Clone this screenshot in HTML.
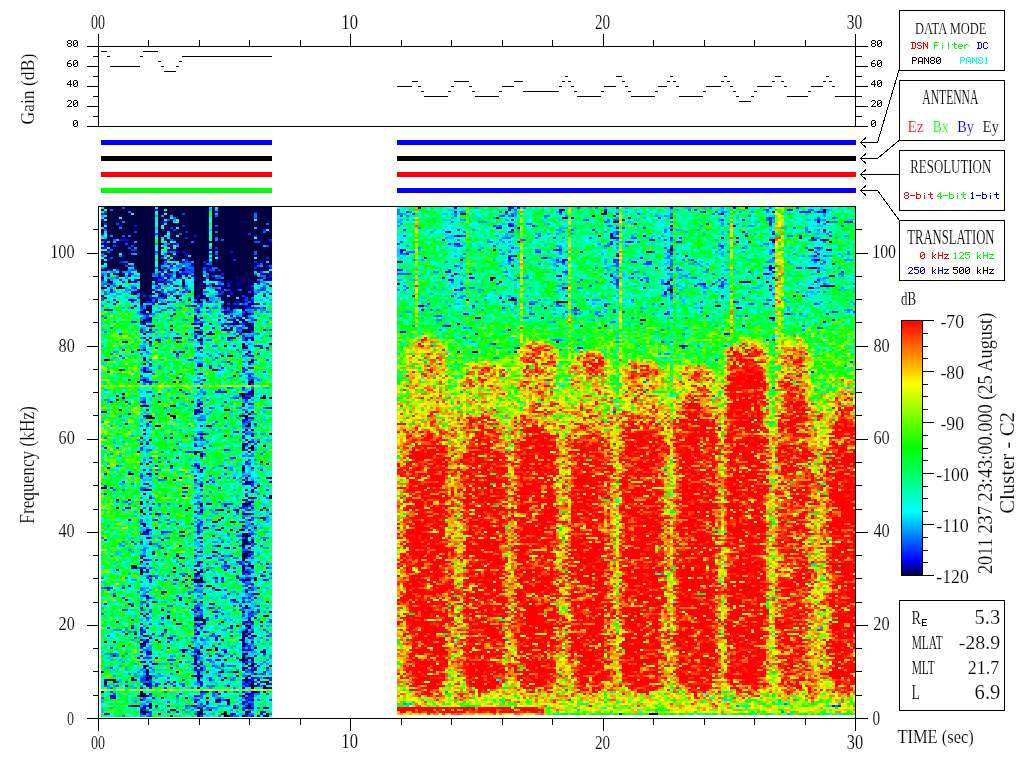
<!DOCTYPE html>
<html><head><meta charset="utf-8"><style>
html,body{margin:0;padding:0;background:#fff;width:1024px;height:768px;overflow:hidden}
#sp{position:absolute;left:101px;top:207px;image-rendering:pixelated}
svg{position:absolute;left:0;top:0}
</style></head><body>
<div style="position:absolute;left:101px;top:207px;width:171px;height:510px;background:linear-gradient(#000050 0,#000050 50px,#0090e0 75px,#10e0a0 120px,#20e0a0 300px,#00c8d0 510px)"></div>
<div style="position:absolute;left:397px;top:207px;width:458px;height:508px;background:linear-gradient(#00d8b0,#00e890 110px,#a0f040 135px,transparent 136px),repeating-linear-gradient(90deg,#c0f020 0,#c0f020 6px,#ff3000 16px,#ff2000 36px,#c0f020 46px,#c0f020 52.3px);background-position:0 0,6px 0"></div>
<canvas id="sp" width="755" height="511"></canvas>
<svg width="1024" height="768" viewBox="0 0 1024 768" shape-rendering="crispEdges">
<line x1="87.00" y1="46.50" x2="868.00" y2="46.50" stroke="#000" stroke-width="1"/>
<line x1="87.00" y1="126.50" x2="868.00" y2="126.50" stroke="#000" stroke-width="1"/>
<line x1="98.50" y1="34.00" x2="98.50" y2="127.00" stroke="#000" stroke-width="1"/>
<line x1="855.50" y1="34.00" x2="855.50" y2="127.00" stroke="#000" stroke-width="1"/>
<line x1="87.00" y1="106.50" x2="98.50" y2="106.50" stroke="#000" stroke-width="1"/>
<line x1="855.50" y1="106.50" x2="868.00" y2="106.50" stroke="#000" stroke-width="1"/>
<line x1="87.00" y1="86.50" x2="98.50" y2="86.50" stroke="#000" stroke-width="1"/>
<line x1="855.50" y1="86.50" x2="868.00" y2="86.50" stroke="#000" stroke-width="1"/>
<line x1="87.00" y1="66.50" x2="98.50" y2="66.50" stroke="#000" stroke-width="1"/>
<line x1="855.50" y1="66.50" x2="868.00" y2="66.50" stroke="#000" stroke-width="1"/>
<line x1="93.00" y1="116.50" x2="98.50" y2="116.50" stroke="#000" stroke-width="1"/>
<line x1="855.50" y1="116.50" x2="862.00" y2="116.50" stroke="#000" stroke-width="1"/>
<line x1="93.00" y1="96.50" x2="98.50" y2="96.50" stroke="#000" stroke-width="1"/>
<line x1="855.50" y1="96.50" x2="862.00" y2="96.50" stroke="#000" stroke-width="1"/>
<line x1="93.00" y1="76.50" x2="98.50" y2="76.50" stroke="#000" stroke-width="1"/>
<line x1="855.50" y1="76.50" x2="862.00" y2="76.50" stroke="#000" stroke-width="1"/>
<line x1="93.00" y1="56.50" x2="98.50" y2="56.50" stroke="#000" stroke-width="1"/>
<line x1="855.50" y1="56.50" x2="862.00" y2="56.50" stroke="#000" stroke-width="1"/>
<line x1="148.97" y1="40.00" x2="148.97" y2="46.50" stroke="#000" stroke-width="1"/>
<line x1="199.43" y1="40.00" x2="199.43" y2="46.50" stroke="#000" stroke-width="1"/>
<line x1="249.90" y1="40.00" x2="249.90" y2="46.50" stroke="#000" stroke-width="1"/>
<line x1="300.37" y1="40.00" x2="300.37" y2="46.50" stroke="#000" stroke-width="1"/>
<line x1="350.83" y1="40.00" x2="350.83" y2="46.50" stroke="#000" stroke-width="1"/>
<line x1="401.30" y1="40.00" x2="401.30" y2="46.50" stroke="#000" stroke-width="1"/>
<line x1="451.77" y1="40.00" x2="451.77" y2="46.50" stroke="#000" stroke-width="1"/>
<line x1="502.23" y1="40.00" x2="502.23" y2="46.50" stroke="#000" stroke-width="1"/>
<line x1="552.70" y1="40.00" x2="552.70" y2="46.50" stroke="#000" stroke-width="1"/>
<line x1="603.17" y1="40.00" x2="603.17" y2="46.50" stroke="#000" stroke-width="1"/>
<line x1="653.63" y1="40.00" x2="653.63" y2="46.50" stroke="#000" stroke-width="1"/>
<line x1="704.10" y1="40.00" x2="704.10" y2="46.50" stroke="#000" stroke-width="1"/>
<line x1="754.57" y1="40.00" x2="754.57" y2="46.50" stroke="#000" stroke-width="1"/>
<line x1="805.03" y1="40.00" x2="805.03" y2="46.50" stroke="#000" stroke-width="1"/>
<line x1="350.83" y1="34.00" x2="350.83" y2="46.50" stroke="#000" stroke-width="1"/>
<line x1="603.17" y1="34.00" x2="603.17" y2="46.50" stroke="#000" stroke-width="1"/>
<path d="M74 120h3v1h-3zM73 121h1v1h-1zM77 121h1v1h-1zM73 122h1v1h-1zM76 122h2v1h-2zM73 123h1v1h-1zM75 123h1v1h-1zM77 123h1v1h-1zM73 124h2v1h-2zM77 124h1v1h-1zM73 125h1v1h-1zM77 125h1v1h-1zM74 126h3v1h-3zM872 120h3v1h-3zM871 121h1v1h-1zM875 121h1v1h-1zM871 122h1v1h-1zM874 122h2v1h-2zM871 123h1v1h-1zM873 123h1v1h-1zM875 123h1v1h-1zM871 124h2v1h-2zM875 124h1v1h-1zM871 125h1v1h-1zM875 125h1v1h-1zM872 126h3v1h-3zM68 100h3v1h-3zM67 101h1v1h-1zM71 101h1v1h-1zM71 102h1v1h-1zM70 103h1v1h-1zM69 104h1v1h-1zM68 105h1v1h-1zM67 106h5v1h-5zM74 100h3v1h-3zM73 101h1v1h-1zM77 101h1v1h-1zM73 102h1v1h-1zM76 102h2v1h-2zM73 103h1v1h-1zM75 103h1v1h-1zM77 103h1v1h-1zM73 104h2v1h-2zM77 104h1v1h-1zM73 105h1v1h-1zM77 105h1v1h-1zM74 106h3v1h-3zM872 100h3v1h-3zM871 101h1v1h-1zM875 101h1v1h-1zM875 102h1v1h-1zM874 103h1v1h-1zM873 104h1v1h-1zM872 105h1v1h-1zM871 106h5v1h-5zM878 100h3v1h-3zM877 101h1v1h-1zM881 101h1v1h-1zM877 102h1v1h-1zM880 102h2v1h-2zM877 103h1v1h-1zM879 103h1v1h-1zM881 103h1v1h-1zM877 104h2v1h-2zM881 104h1v1h-1zM877 105h1v1h-1zM881 105h1v1h-1zM878 106h3v1h-3zM70 80h1v1h-1zM69 81h2v1h-2zM68 82h1v1h-1zM70 82h1v1h-1zM67 83h1v1h-1zM70 83h1v1h-1zM67 84h5v1h-5zM70 85h1v1h-1zM70 86h1v1h-1zM74 80h3v1h-3zM73 81h1v1h-1zM77 81h1v1h-1zM73 82h1v1h-1zM76 82h2v1h-2zM73 83h1v1h-1zM75 83h1v1h-1zM77 83h1v1h-1zM73 84h2v1h-2zM77 84h1v1h-1zM73 85h1v1h-1zM77 85h1v1h-1zM74 86h3v1h-3zM874 80h1v1h-1zM873 81h2v1h-2zM872 82h1v1h-1zM874 82h1v1h-1zM871 83h1v1h-1zM874 83h1v1h-1zM871 84h5v1h-5zM874 85h1v1h-1zM874 86h1v1h-1zM878 80h3v1h-3zM877 81h1v1h-1zM881 81h1v1h-1zM877 82h1v1h-1zM880 82h2v1h-2zM877 83h1v1h-1zM879 83h1v1h-1zM881 83h1v1h-1zM877 84h2v1h-2zM881 84h1v1h-1zM877 85h1v1h-1zM881 85h1v1h-1zM878 86h3v1h-3zM69 60h2v1h-2zM68 61h1v1h-1zM67 62h1v1h-1zM67 63h4v1h-4zM67 64h1v1h-1zM71 64h1v1h-1zM67 65h1v1h-1zM71 65h1v1h-1zM68 66h3v1h-3zM74 60h3v1h-3zM73 61h1v1h-1zM77 61h1v1h-1zM73 62h1v1h-1zM76 62h2v1h-2zM73 63h1v1h-1zM75 63h1v1h-1zM77 63h1v1h-1zM73 64h2v1h-2zM77 64h1v1h-1zM73 65h1v1h-1zM77 65h1v1h-1zM74 66h3v1h-3zM873 60h2v1h-2zM872 61h1v1h-1zM871 62h1v1h-1zM871 63h4v1h-4zM871 64h1v1h-1zM875 64h1v1h-1zM871 65h1v1h-1zM875 65h1v1h-1zM872 66h3v1h-3zM878 60h3v1h-3zM877 61h1v1h-1zM881 61h1v1h-1zM877 62h1v1h-1zM880 62h2v1h-2zM877 63h1v1h-1zM879 63h1v1h-1zM881 63h1v1h-1zM877 64h2v1h-2zM881 64h1v1h-1zM877 65h1v1h-1zM881 65h1v1h-1zM878 66h3v1h-3zM68 40h3v1h-3zM67 41h1v1h-1zM71 41h1v1h-1zM67 42h1v1h-1zM71 42h1v1h-1zM68 43h3v1h-3zM67 44h1v1h-1zM71 44h1v1h-1zM67 45h1v1h-1zM71 45h1v1h-1zM68 46h3v1h-3zM74 40h3v1h-3zM73 41h1v1h-1zM77 41h1v1h-1zM73 42h1v1h-1zM76 42h2v1h-2zM73 43h1v1h-1zM75 43h1v1h-1zM77 43h1v1h-1zM73 44h2v1h-2zM77 44h1v1h-1zM73 45h1v1h-1zM77 45h1v1h-1zM74 46h3v1h-3zM872 40h3v1h-3zM871 41h1v1h-1zM875 41h1v1h-1zM871 42h1v1h-1zM875 42h1v1h-1zM872 43h3v1h-3zM871 44h1v1h-1zM875 44h1v1h-1zM871 45h1v1h-1zM875 45h1v1h-1zM872 46h3v1h-3zM878 40h3v1h-3zM877 41h1v1h-1zM881 41h1v1h-1zM877 42h1v1h-1zM880 42h2v1h-2zM877 43h1v1h-1zM879 43h1v1h-1zM881 43h1v1h-1zM877 44h2v1h-2zM881 44h1v1h-1zM877 45h1v1h-1zM881 45h1v1h-1zM878 46h3v1h-3z" fill="#000"/>
<path d="M101 51.5H107M107 56.5H110M110 66.5H140M140 56.5H143M143 51.5H158M158 61.5H161M161 66.5H164M164 71.5H176M176 66.5H179M179 61.5H182M182 56.5H272M397 86.5H412M412 81.5H418M418 86.5H421M421 91.5H424M424 96.5H448M448 91.5H451M451 86.5H454M454 81.5H469M469 86.5H472M472 91.5H475M475 96.5H499M499 91.5H502M502 86.5H514M514 81.5H523M523 91.5H559M559 86.5H562M562 81.5H565M565 76.5H568M568 81.5H571M571 86.5H574M574 91.5H577M577 96.5H601M601 91.5H604M604 86.5H616M616 76.5H622M622 81.5H625M625 86.5H628M628 91.5H631M631 96.5H655M655 91.5H658M658 86.5H667M667 81.5H670M670 76.5H673M673 81.5H676M676 86.5H679M679 96.5H703M703 91.5H706M706 86.5H721M721 81.5H724M724 76.5H727M727 81.5H730M730 86.5H733M733 91.5H736M736 96.5H739M739 101.5H751M751 96.5H754M754 91.5H757M757 86.5H772M772 81.5H775M775 76.5H781M781 81.5H784M784 86.5H787M787 96.5H808M808 91.5H811M811 86.5H823M823 81.5H826M826 76.5H829M829 81.5H832M832 86.5H835M835 96.5H856" stroke="#000" stroke-width="1" fill="none"/>
<rect x="101" y="140" width="171" height="5" fill="#0000ff"/>
<rect x="397" y="140" width="459" height="5" fill="#0000ff"/>
<rect x="101" y="156" width="171" height="5" fill="#000000"/>
<rect x="397" y="156" width="459" height="5" fill="#000000"/>
<rect x="101" y="172" width="171" height="5" fill="#ff0000"/>
<rect x="397" y="172" width="459" height="5" fill="#ff0000"/>
<rect x="101" y="188" width="171" height="5" fill="#00ff00"/>
<rect x="397" y="188" width="459" height="5" fill="#0000ff"/>
<path d="M866 137.5L860.5 142.5L866 147.5M860.5 142.5H877.5" stroke="#000" fill="none"/>
<path d="M866 153.5L860.5 158.5L866 163.5M860.5 158.5H877.5" stroke="#000" fill="none"/>
<path d="M866 169.5L860.5 174.5L866 179.5M860.5 174.5H877.5" stroke="#000" fill="none"/>
<path d="M866 185.5L860.5 190.5L866 195.5M860.5 190.5H877.5" stroke="#000" fill="none"/>
<path d="M877.5 142.5L899 70M877.5 158.5L899 140.5M877.5 174.5H899M877.5 190.5L899 220" stroke="#000" fill="none"/>
<rect x="899.5" y="10.5" width="105" height="60" fill="none" stroke="#000"/>
<rect x="899.5" y="80.5" width="105" height="60" fill="none" stroke="#000"/>
<rect x="899.5" y="150.5" width="105" height="60" fill="none" stroke="#000"/>
<rect x="899.5" y="220.5" width="105" height="60" fill="none" stroke="#000"/>
<rect x="899.5" y="600.5" width="105" height="110" fill="none" stroke="#000"/>
<line x1="98.50" y1="206.50" x2="855.50" y2="206.50" stroke="#000" stroke-width="1"/>
<line x1="87.00" y1="718.50" x2="868.00" y2="718.50" stroke="#000" stroke-width="1"/>
<line x1="98.50" y1="206.00" x2="98.50" y2="731.00" stroke="#000" stroke-width="1"/>
<line x1="855.50" y1="206.00" x2="855.50" y2="731.00" stroke="#000" stroke-width="1"/>
<line x1="148.97" y1="718.50" x2="148.97" y2="725.00" stroke="#000" stroke-width="1"/>
<line x1="199.43" y1="718.50" x2="199.43" y2="725.00" stroke="#000" stroke-width="1"/>
<line x1="249.90" y1="718.50" x2="249.90" y2="725.00" stroke="#000" stroke-width="1"/>
<line x1="300.37" y1="718.50" x2="300.37" y2="725.00" stroke="#000" stroke-width="1"/>
<line x1="350.83" y1="718.50" x2="350.83" y2="725.00" stroke="#000" stroke-width="1"/>
<line x1="401.30" y1="718.50" x2="401.30" y2="725.00" stroke="#000" stroke-width="1"/>
<line x1="451.77" y1="718.50" x2="451.77" y2="725.00" stroke="#000" stroke-width="1"/>
<line x1="502.23" y1="718.50" x2="502.23" y2="725.00" stroke="#000" stroke-width="1"/>
<line x1="552.70" y1="718.50" x2="552.70" y2="725.00" stroke="#000" stroke-width="1"/>
<line x1="603.17" y1="718.50" x2="603.17" y2="725.00" stroke="#000" stroke-width="1"/>
<line x1="653.63" y1="718.50" x2="653.63" y2="725.00" stroke="#000" stroke-width="1"/>
<line x1="704.10" y1="718.50" x2="704.10" y2="725.00" stroke="#000" stroke-width="1"/>
<line x1="754.57" y1="718.50" x2="754.57" y2="725.00" stroke="#000" stroke-width="1"/>
<line x1="805.03" y1="718.50" x2="805.03" y2="725.00" stroke="#000" stroke-width="1"/>
<line x1="350.83" y1="718.50" x2="350.83" y2="731.00" stroke="#000" stroke-width="1"/>
<line x1="603.17" y1="718.50" x2="603.17" y2="731.00" stroke="#000" stroke-width="1"/>
<line x1="93.00" y1="695.50" x2="98.50" y2="695.50" stroke="#000" stroke-width="1"/>
<line x1="855.50" y1="695.50" x2="862.00" y2="695.50" stroke="#000" stroke-width="1"/>
<line x1="93.00" y1="671.50" x2="98.50" y2="671.50" stroke="#000" stroke-width="1"/>
<line x1="855.50" y1="671.50" x2="862.00" y2="671.50" stroke="#000" stroke-width="1"/>
<line x1="93.00" y1="648.50" x2="98.50" y2="648.50" stroke="#000" stroke-width="1"/>
<line x1="855.50" y1="648.50" x2="862.00" y2="648.50" stroke="#000" stroke-width="1"/>
<line x1="87.00" y1="625.50" x2="98.50" y2="625.50" stroke="#000" stroke-width="1"/>
<line x1="855.50" y1="625.50" x2="868.00" y2="625.50" stroke="#000" stroke-width="1"/>
<line x1="93.00" y1="602.50" x2="98.50" y2="602.50" stroke="#000" stroke-width="1"/>
<line x1="855.50" y1="602.50" x2="862.00" y2="602.50" stroke="#000" stroke-width="1"/>
<line x1="93.00" y1="578.50" x2="98.50" y2="578.50" stroke="#000" stroke-width="1"/>
<line x1="855.50" y1="578.50" x2="862.00" y2="578.50" stroke="#000" stroke-width="1"/>
<line x1="93.00" y1="555.50" x2="98.50" y2="555.50" stroke="#000" stroke-width="1"/>
<line x1="855.50" y1="555.50" x2="862.00" y2="555.50" stroke="#000" stroke-width="1"/>
<line x1="87.00" y1="532.50" x2="98.50" y2="532.50" stroke="#000" stroke-width="1"/>
<line x1="855.50" y1="532.50" x2="868.00" y2="532.50" stroke="#000" stroke-width="1"/>
<line x1="93.00" y1="509.50" x2="98.50" y2="509.50" stroke="#000" stroke-width="1"/>
<line x1="855.50" y1="509.50" x2="862.00" y2="509.50" stroke="#000" stroke-width="1"/>
<line x1="93.00" y1="485.50" x2="98.50" y2="485.50" stroke="#000" stroke-width="1"/>
<line x1="855.50" y1="485.50" x2="862.00" y2="485.50" stroke="#000" stroke-width="1"/>
<line x1="93.00" y1="462.50" x2="98.50" y2="462.50" stroke="#000" stroke-width="1"/>
<line x1="855.50" y1="462.50" x2="862.00" y2="462.50" stroke="#000" stroke-width="1"/>
<line x1="87.00" y1="439.50" x2="98.50" y2="439.50" stroke="#000" stroke-width="1"/>
<line x1="855.50" y1="439.50" x2="868.00" y2="439.50" stroke="#000" stroke-width="1"/>
<line x1="93.00" y1="415.50" x2="98.50" y2="415.50" stroke="#000" stroke-width="1"/>
<line x1="855.50" y1="415.50" x2="862.00" y2="415.50" stroke="#000" stroke-width="1"/>
<line x1="93.00" y1="392.50" x2="98.50" y2="392.50" stroke="#000" stroke-width="1"/>
<line x1="855.50" y1="392.50" x2="862.00" y2="392.50" stroke="#000" stroke-width="1"/>
<line x1="93.00" y1="369.50" x2="98.50" y2="369.50" stroke="#000" stroke-width="1"/>
<line x1="855.50" y1="369.50" x2="862.00" y2="369.50" stroke="#000" stroke-width="1"/>
<line x1="87.00" y1="346.50" x2="98.50" y2="346.50" stroke="#000" stroke-width="1"/>
<line x1="855.50" y1="346.50" x2="868.00" y2="346.50" stroke="#000" stroke-width="1"/>
<line x1="93.00" y1="322.50" x2="98.50" y2="322.50" stroke="#000" stroke-width="1"/>
<line x1="855.50" y1="322.50" x2="862.00" y2="322.50" stroke="#000" stroke-width="1"/>
<line x1="93.00" y1="299.50" x2="98.50" y2="299.50" stroke="#000" stroke-width="1"/>
<line x1="855.50" y1="299.50" x2="862.00" y2="299.50" stroke="#000" stroke-width="1"/>
<line x1="93.00" y1="276.50" x2="98.50" y2="276.50" stroke="#000" stroke-width="1"/>
<line x1="855.50" y1="276.50" x2="862.00" y2="276.50" stroke="#000" stroke-width="1"/>
<line x1="87.00" y1="253.50" x2="98.50" y2="253.50" stroke="#000" stroke-width="1"/>
<line x1="855.50" y1="253.50" x2="868.00" y2="253.50" stroke="#000" stroke-width="1"/>
<line x1="93.00" y1="229.50" x2="98.50" y2="229.50" stroke="#000" stroke-width="1"/>
<line x1="855.50" y1="229.50" x2="862.00" y2="229.50" stroke="#000" stroke-width="1"/>
<defs><linearGradient id="cb" x1="0" y1="1" x2="0" y2="0"><stop offset="0" stop-color="#000040"/><stop offset="0.06" stop-color="#0000ff"/><stop offset="0.25" stop-color="#00ffff"/><stop offset="0.5" stop-color="#00ff00"/><stop offset="0.75" stop-color="#ffff00"/><stop offset="1" stop-color="#ff0000"/></linearGradient></defs>
<rect x="901.5" y="320.5" width="21" height="255" fill="url(#cb)" stroke="#000"/>
<line x1="922.50" y1="320.50" x2="934.00" y2="320.50" stroke="#000" stroke-width="1"/>
<line x1="922.50" y1="333.50" x2="928.00" y2="333.50" stroke="#000" stroke-width="1"/>
<line x1="922.50" y1="346.50" x2="928.00" y2="346.50" stroke="#000" stroke-width="1"/>
<line x1="922.50" y1="358.50" x2="928.00" y2="358.50" stroke="#000" stroke-width="1"/>
<line x1="922.50" y1="371.50" x2="934.00" y2="371.50" stroke="#000" stroke-width="1"/>
<line x1="922.50" y1="384.50" x2="928.00" y2="384.50" stroke="#000" stroke-width="1"/>
<line x1="922.50" y1="396.50" x2="928.00" y2="396.50" stroke="#000" stroke-width="1"/>
<line x1="922.50" y1="409.50" x2="928.00" y2="409.50" stroke="#000" stroke-width="1"/>
<line x1="922.50" y1="422.50" x2="934.00" y2="422.50" stroke="#000" stroke-width="1"/>
<line x1="922.50" y1="435.50" x2="928.00" y2="435.50" stroke="#000" stroke-width="1"/>
<line x1="922.50" y1="448.50" x2="928.00" y2="448.50" stroke="#000" stroke-width="1"/>
<line x1="922.50" y1="460.50" x2="928.00" y2="460.50" stroke="#000" stroke-width="1"/>
<line x1="922.50" y1="473.50" x2="934.00" y2="473.50" stroke="#000" stroke-width="1"/>
<line x1="922.50" y1="486.50" x2="928.00" y2="486.50" stroke="#000" stroke-width="1"/>
<line x1="922.50" y1="498.50" x2="928.00" y2="498.50" stroke="#000" stroke-width="1"/>
<line x1="922.50" y1="511.50" x2="928.00" y2="511.50" stroke="#000" stroke-width="1"/>
<line x1="922.50" y1="524.50" x2="934.00" y2="524.50" stroke="#000" stroke-width="1"/>
<line x1="922.50" y1="537.50" x2="928.00" y2="537.50" stroke="#000" stroke-width="1"/>
<line x1="922.50" y1="550.50" x2="928.00" y2="550.50" stroke="#000" stroke-width="1"/>
<line x1="922.50" y1="562.50" x2="928.00" y2="562.50" stroke="#000" stroke-width="1"/>
<line x1="922.50" y1="575.50" x2="934.00" y2="575.50" stroke="#000" stroke-width="1"/>
<path d="M911 42h4v1h-4zM912 43h1v1h-1zM915 43h1v1h-1zM912 44h1v1h-1zM915 44h1v1h-1zM912 45h1v1h-1zM915 45h1v1h-1zM912 46h1v1h-1zM915 46h1v1h-1zM912 47h1v1h-1zM915 47h1v1h-1zM911 48h4v1h-4zM918 42h3v1h-3zM917 43h1v1h-1zM921 43h1v1h-1zM917 44h1v1h-1zM918 45h3v1h-3zM921 46h1v1h-1zM917 47h1v1h-1zM921 47h1v1h-1zM918 48h3v1h-3zM923 42h1v1h-1zM927 42h1v1h-1zM923 43h2v1h-2zM927 43h1v1h-1zM923 44h1v1h-1zM925 44h1v1h-1zM927 44h1v1h-1zM923 45h1v1h-1zM925 45h1v1h-1zM927 45h1v1h-1zM923 46h1v1h-1zM926 46h2v1h-2zM923 47h1v1h-1zM927 47h1v1h-1zM923 48h1v1h-1zM927 48h1v1h-1z" fill="#ff0000"/>
<path d="M934 42h5v1h-5zM934 43h1v1h-1zM934 44h1v1h-1zM934 45h4v1h-4zM934 46h1v1h-1zM934 47h1v1h-1zM934 48h1v1h-1zM942 43h1v1h-1zM942 45h1v1h-1zM942 46h1v1h-1zM942 47h1v1h-1zM942 48h1v1h-1zM948 42h1v1h-1zM948 43h1v1h-1zM948 44h1v1h-1zM948 45h1v1h-1zM948 46h1v1h-1zM948 47h1v1h-1zM948 48h1v1h-1zM954 42h1v1h-1zM954 43h1v1h-1zM952 44h5v1h-5zM954 45h1v1h-1zM954 46h1v1h-1zM954 47h1v1h-1zM955 48h2v1h-2zM959 44h3v1h-3zM958 45h1v1h-1zM962 45h1v1h-1zM958 46h5v1h-5zM958 47h1v1h-1zM959 48h3v1h-3zM964 44h1v1h-1zM966 44h2v1h-2zM964 45h2v1h-2zM968 45h1v1h-1zM964 46h1v1h-1zM964 47h1v1h-1zM964 48h1v1h-1z" fill="#00ff00"/>
<path d="M977 42h4v1h-4zM978 43h1v1h-1zM981 43h1v1h-1zM978 44h1v1h-1zM981 44h1v1h-1zM978 45h1v1h-1zM981 45h1v1h-1zM978 46h1v1h-1zM981 46h1v1h-1zM978 47h1v1h-1zM981 47h1v1h-1zM977 48h4v1h-4zM984 42h3v1h-3zM983 43h1v1h-1zM987 43h1v1h-1zM983 44h1v1h-1zM983 45h1v1h-1zM983 46h1v1h-1zM983 47h1v1h-1zM987 47h1v1h-1zM984 48h3v1h-3z" fill="#0000ff"/>
<path d="M912 57h4v1h-4zM912 58h1v1h-1zM916 58h1v1h-1zM912 59h1v1h-1zM916 59h1v1h-1zM912 60h4v1h-4zM912 61h1v1h-1zM912 62h1v1h-1zM912 63h1v1h-1zM919 57h3v1h-3zM918 58h1v1h-1zM922 58h1v1h-1zM918 59h1v1h-1zM922 59h1v1h-1zM918 60h1v1h-1zM922 60h1v1h-1zM918 61h5v1h-5zM918 62h1v1h-1zM922 62h1v1h-1zM918 63h1v1h-1zM922 63h1v1h-1zM924 57h1v1h-1zM928 57h1v1h-1zM924 58h2v1h-2zM928 58h1v1h-1zM924 59h1v1h-1zM926 59h1v1h-1zM928 59h1v1h-1zM924 60h1v1h-1zM926 60h1v1h-1zM928 60h1v1h-1zM924 61h1v1h-1zM927 61h2v1h-2zM924 62h1v1h-1zM928 62h1v1h-1zM924 63h1v1h-1zM928 63h1v1h-1zM931 57h3v1h-3zM930 58h1v1h-1zM934 58h1v1h-1zM930 59h1v1h-1zM934 59h1v1h-1zM931 60h3v1h-3zM930 61h1v1h-1zM934 61h1v1h-1zM930 62h1v1h-1zM934 62h1v1h-1zM931 63h3v1h-3zM937 57h3v1h-3zM936 58h1v1h-1zM940 58h1v1h-1zM936 59h1v1h-1zM939 59h2v1h-2zM936 60h1v1h-1zM938 60h1v1h-1zM940 60h1v1h-1zM936 61h2v1h-2zM940 61h1v1h-1zM936 62h1v1h-1zM940 62h1v1h-1zM937 63h3v1h-3z" fill="#000000"/>
<path d="M960 57h4v1h-4zM960 58h1v1h-1zM964 58h1v1h-1zM960 59h1v1h-1zM964 59h1v1h-1zM960 60h4v1h-4zM960 61h1v1h-1zM960 62h1v1h-1zM960 63h1v1h-1zM967 57h3v1h-3zM966 58h1v1h-1zM970 58h1v1h-1zM966 59h1v1h-1zM970 59h1v1h-1zM966 60h1v1h-1zM970 60h1v1h-1zM966 61h5v1h-5zM966 62h1v1h-1zM970 62h1v1h-1zM966 63h1v1h-1zM970 63h1v1h-1zM972 57h1v1h-1zM976 57h1v1h-1zM972 58h2v1h-2zM976 58h1v1h-1zM972 59h1v1h-1zM974 59h1v1h-1zM976 59h1v1h-1zM972 60h1v1h-1zM974 60h1v1h-1zM976 60h1v1h-1zM972 61h1v1h-1zM975 61h2v1h-2zM972 62h1v1h-1zM976 62h1v1h-1zM972 63h1v1h-1zM976 63h1v1h-1zM979 57h3v1h-3zM978 58h1v1h-1zM982 58h1v1h-1zM978 59h1v1h-1zM982 59h1v1h-1zM979 60h3v1h-3zM978 61h1v1h-1zM982 61h1v1h-1zM978 62h1v1h-1zM982 62h1v1h-1zM979 63h3v1h-3zM986 57h1v1h-1zM985 58h2v1h-2zM986 59h1v1h-1zM986 60h1v1h-1zM986 61h1v1h-1zM986 62h1v1h-1zM985 63h3v1h-3z" fill="#00ffff"/>
<path d="M905 192h3v1h-3zM904 193h1v1h-1zM908 193h1v1h-1zM904 194h1v1h-1zM908 194h1v1h-1zM905 195h3v1h-3zM904 196h1v1h-1zM908 196h1v1h-1zM904 197h1v1h-1zM908 197h1v1h-1zM905 198h3v1h-3zM910 195h5v1h-5zM916 192h1v1h-1zM916 193h1v1h-1zM916 194h4v1h-4zM916 195h1v1h-1zM920 195h1v1h-1zM916 196h1v1h-1zM920 196h1v1h-1zM916 197h1v1h-1zM920 197h1v1h-1zM916 198h4v1h-4zM924 193h1v1h-1zM924 195h1v1h-1zM924 196h1v1h-1zM924 197h1v1h-1zM924 198h1v1h-1zM930 192h1v1h-1zM930 193h1v1h-1zM928 194h5v1h-5zM930 195h1v1h-1zM930 196h1v1h-1zM930 197h1v1h-1zM931 198h2v1h-2z" fill="#ff0000"/>
<path d="M940 192h1v1h-1zM939 193h2v1h-2zM938 194h1v1h-1zM940 194h1v1h-1zM937 195h1v1h-1zM940 195h1v1h-1zM937 196h5v1h-5zM940 197h1v1h-1zM940 198h1v1h-1zM943 195h5v1h-5zM949 192h1v1h-1zM949 193h1v1h-1zM949 194h4v1h-4zM949 195h1v1h-1zM953 195h1v1h-1zM949 196h1v1h-1zM953 196h1v1h-1zM949 197h1v1h-1zM953 197h1v1h-1zM949 198h4v1h-4zM957 193h1v1h-1zM957 195h1v1h-1zM957 196h1v1h-1zM957 197h1v1h-1zM957 198h1v1h-1zM963 192h1v1h-1zM963 193h1v1h-1zM961 194h5v1h-5zM963 195h1v1h-1zM963 196h1v1h-1zM963 197h1v1h-1zM964 198h2v1h-2z" fill="#00ff00"/>
<path d="M972 192h1v1h-1zM971 193h2v1h-2zM972 194h1v1h-1zM972 195h1v1h-1zM972 196h1v1h-1zM972 197h1v1h-1zM971 198h3v1h-3zM976 195h5v1h-5zM982 192h1v1h-1zM982 193h1v1h-1zM982 194h4v1h-4zM982 195h1v1h-1zM986 195h1v1h-1zM982 196h1v1h-1zM986 196h1v1h-1zM982 197h1v1h-1zM986 197h1v1h-1zM982 198h4v1h-4zM990 193h1v1h-1zM990 195h1v1h-1zM990 196h1v1h-1zM990 197h1v1h-1zM990 198h1v1h-1zM996 192h1v1h-1zM996 193h1v1h-1zM994 194h5v1h-5zM996 195h1v1h-1zM996 196h1v1h-1zM996 197h1v1h-1zM997 198h2v1h-2z" fill="#0000ff"/>
<path d="M921 252h3v1h-3zM920 253h1v1h-1zM924 253h1v1h-1zM920 254h1v1h-1zM923 254h2v1h-2zM920 255h1v1h-1zM922 255h1v1h-1zM924 255h1v1h-1zM920 256h2v1h-2zM924 256h1v1h-1zM920 257h1v1h-1zM924 257h1v1h-1zM921 258h3v1h-3zM932 252h1v1h-1zM932 253h1v1h-1zM932 254h1v1h-1zM935 254h1v1h-1zM932 255h1v1h-1zM934 255h1v1h-1zM932 256h2v1h-2zM932 257h1v1h-1zM934 257h1v1h-1zM932 258h1v1h-1zM935 258h1v1h-1zM938 252h1v1h-1zM942 252h1v1h-1zM938 253h1v1h-1zM942 253h1v1h-1zM938 254h1v1h-1zM942 254h1v1h-1zM938 255h5v1h-5zM938 256h1v1h-1zM942 256h1v1h-1zM938 257h1v1h-1zM942 257h1v1h-1zM938 258h1v1h-1zM942 258h1v1h-1zM944 254h5v1h-5zM947 255h1v1h-1zM946 256h1v1h-1zM945 257h1v1h-1zM944 258h5v1h-5z" fill="#ff0000"/>
<path d="M955 252h1v1h-1zM954 253h2v1h-2zM955 254h1v1h-1zM955 255h1v1h-1zM955 256h1v1h-1zM955 257h1v1h-1zM954 258h3v1h-3zM960 252h3v1h-3zM959 253h1v1h-1zM963 253h1v1h-1zM963 254h1v1h-1zM962 255h1v1h-1zM961 256h1v1h-1zM960 257h1v1h-1zM959 258h5v1h-5zM965 252h5v1h-5zM965 253h1v1h-1zM965 254h4v1h-4zM969 255h1v1h-1zM969 256h1v1h-1zM965 257h1v1h-1zM969 257h1v1h-1zM966 258h3v1h-3zM977 252h1v1h-1zM977 253h1v1h-1zM977 254h1v1h-1zM980 254h1v1h-1zM977 255h1v1h-1zM979 255h1v1h-1zM977 256h2v1h-2zM977 257h1v1h-1zM979 257h1v1h-1zM977 258h1v1h-1zM980 258h1v1h-1zM983 252h1v1h-1zM987 252h1v1h-1zM983 253h1v1h-1zM987 253h1v1h-1zM983 254h1v1h-1zM987 254h1v1h-1zM983 255h5v1h-5zM983 256h1v1h-1zM987 256h1v1h-1zM983 257h1v1h-1zM987 257h1v1h-1zM983 258h1v1h-1zM987 258h1v1h-1zM989 254h5v1h-5zM992 255h1v1h-1zM991 256h1v1h-1zM990 257h1v1h-1zM989 258h5v1h-5z" fill="#00ff00"/>
<path d="M909 267h3v1h-3zM908 268h1v1h-1zM912 268h1v1h-1zM912 269h1v1h-1zM911 270h1v1h-1zM910 271h1v1h-1zM909 272h1v1h-1zM908 273h5v1h-5zM914 267h5v1h-5zM914 268h1v1h-1zM914 269h4v1h-4zM918 270h1v1h-1zM918 271h1v1h-1zM914 272h1v1h-1zM918 272h1v1h-1zM915 273h3v1h-3zM921 267h3v1h-3zM920 268h1v1h-1zM924 268h1v1h-1zM920 269h1v1h-1zM923 269h2v1h-2zM920 270h1v1h-1zM922 270h1v1h-1zM924 270h1v1h-1zM920 271h2v1h-2zM924 271h1v1h-1zM920 272h1v1h-1zM924 272h1v1h-1zM921 273h3v1h-3zM932 267h1v1h-1zM932 268h1v1h-1zM932 269h1v1h-1zM935 269h1v1h-1zM932 270h1v1h-1zM934 270h1v1h-1zM932 271h2v1h-2zM932 272h1v1h-1zM934 272h1v1h-1zM932 273h1v1h-1zM935 273h1v1h-1zM938 267h1v1h-1zM942 267h1v1h-1zM938 268h1v1h-1zM942 268h1v1h-1zM938 269h1v1h-1zM942 269h1v1h-1zM938 270h5v1h-5zM938 271h1v1h-1zM942 271h1v1h-1zM938 272h1v1h-1zM942 272h1v1h-1zM938 273h1v1h-1zM942 273h1v1h-1zM944 269h5v1h-5zM947 270h1v1h-1zM946 271h1v1h-1zM945 272h1v1h-1zM944 273h5v1h-5z" fill="#0000ff"/>
<path d="M953 267h5v1h-5zM953 268h1v1h-1zM953 269h4v1h-4zM957 270h1v1h-1zM957 271h1v1h-1zM953 272h1v1h-1zM957 272h1v1h-1zM954 273h3v1h-3zM960 267h3v1h-3zM959 268h1v1h-1zM963 268h1v1h-1zM959 269h1v1h-1zM962 269h2v1h-2zM959 270h1v1h-1zM961 270h1v1h-1zM963 270h1v1h-1zM959 271h2v1h-2zM963 271h1v1h-1zM959 272h1v1h-1zM963 272h1v1h-1zM960 273h3v1h-3zM966 267h3v1h-3zM965 268h1v1h-1zM969 268h1v1h-1zM965 269h1v1h-1zM968 269h2v1h-2zM965 270h1v1h-1zM967 270h1v1h-1zM969 270h1v1h-1zM965 271h2v1h-2zM969 271h1v1h-1zM965 272h1v1h-1zM969 272h1v1h-1zM966 273h3v1h-3zM977 267h1v1h-1zM977 268h1v1h-1zM977 269h1v1h-1zM980 269h1v1h-1zM977 270h1v1h-1zM979 270h1v1h-1zM977 271h2v1h-2zM977 272h1v1h-1zM979 272h1v1h-1zM977 273h1v1h-1zM980 273h1v1h-1zM983 267h1v1h-1zM987 267h1v1h-1zM983 268h1v1h-1zM987 268h1v1h-1zM983 269h1v1h-1zM987 269h1v1h-1zM983 270h5v1h-5zM983 271h1v1h-1zM987 271h1v1h-1zM983 272h1v1h-1zM987 272h1v1h-1zM983 273h1v1h-1zM987 273h1v1h-1zM989 269h5v1h-5zM992 270h1v1h-1zM991 271h1v1h-1zM990 272h1v1h-1zM989 273h5v1h-5z" fill="#000000"/>
<path d="M922 619h5v1h-5zM922 620h1v1h-1zM922 621h1v1h-1zM922 622h4v1h-4zM922 623h1v1h-1zM922 624h1v1h-1zM922 625h5v1h-5z" fill="#000"/>
<text x="91.00" y="28.60" font-family="Liberation Serif" font-size="20.85" fill="#000" stroke="#fff" stroke-width="0.15" textLength="14.00" lengthAdjust="spacingAndGlyphs">00</text>
<text x="341.37" y="29.00" font-family="Liberation Serif" font-size="21.11" fill="#000" stroke="#fff" stroke-width="0.15" textLength="16.64" lengthAdjust="spacingAndGlyphs">10</text>
<text x="595.01" y="29.00" font-family="Liberation Serif" font-size="21.00" fill="#000" stroke="#fff" stroke-width="0.15" textLength="15.22" lengthAdjust="spacingAndGlyphs">20</text>
<text x="846.80" y="29.00" font-family="Liberation Serif" font-size="21.00" fill="#000" stroke="#fff" stroke-width="0.15" textLength="15.41" lengthAdjust="spacingAndGlyphs">30</text>
<text x="91.00" y="748.63" font-family="Liberation Serif" font-size="19.89" fill="#000" stroke="#fff" stroke-width="0.15" textLength="14.00" lengthAdjust="spacingAndGlyphs">00</text>
<text x="341.37" y="748.39" font-family="Liberation Serif" font-size="20.47" fill="#000" stroke="#fff" stroke-width="0.15" textLength="16.64" lengthAdjust="spacingAndGlyphs">10</text>
<text x="595.04" y="748.53" font-family="Liberation Serif" font-size="19.34" fill="#000" stroke="#fff" stroke-width="0.15" textLength="15.16" lengthAdjust="spacingAndGlyphs">20</text>
<text x="846.79" y="748.65" font-family="Liberation Serif" font-size="20.47" fill="#000" stroke="#fff" stroke-width="0.15" textLength="16.43" lengthAdjust="spacingAndGlyphs">30</text>
<text x="50.14" y="258.16" font-family="Liberation Serif" font-size="19.27" fill="#000" stroke="#fff" stroke-width="0.15" textLength="24.56" lengthAdjust="spacingAndGlyphs">100</text>
<text x="872.21" y="258.16" font-family="Liberation Serif" font-size="19.27" fill="#000" stroke="#fff" stroke-width="0.15" textLength="23.81" lengthAdjust="spacingAndGlyphs">100</text>
<text x="58.53" y="351.84" font-family="Liberation Serif" font-size="19.27" fill="#000" stroke="#fff" stroke-width="0.15" textLength="16.22" lengthAdjust="spacingAndGlyphs">80</text>
<text x="873.38" y="351.84" font-family="Liberation Serif" font-size="19.27" fill="#000" stroke="#fff" stroke-width="0.15" textLength="16.30" lengthAdjust="spacingAndGlyphs">80</text>
<text x="58.52" y="444.09" font-family="Liberation Serif" font-size="19.27" fill="#000" stroke="#fff" stroke-width="0.15" textLength="16.22" lengthAdjust="spacingAndGlyphs">60</text>
<text x="873.38" y="444.10" font-family="Liberation Serif" font-size="19.27" fill="#000" stroke="#fff" stroke-width="0.15" textLength="16.30" lengthAdjust="spacingAndGlyphs">60</text>
<text x="58.51" y="537.46" font-family="Liberation Serif" font-size="19.15" fill="#000" stroke="#fff" stroke-width="0.15" textLength="16.22" lengthAdjust="spacingAndGlyphs">40</text>
<text x="873.38" y="537.46" font-family="Liberation Serif" font-size="19.15" fill="#000" stroke="#fff" stroke-width="0.15" textLength="16.37" lengthAdjust="spacingAndGlyphs">40</text>
<text x="58.52" y="629.73" font-family="Liberation Serif" font-size="19.38" fill="#000" stroke="#fff" stroke-width="0.15" textLength="16.22" lengthAdjust="spacingAndGlyphs">20</text>
<text x="873.32" y="629.73" font-family="Liberation Serif" font-size="19.38" fill="#000" stroke="#fff" stroke-width="0.15" textLength="16.37" lengthAdjust="spacingAndGlyphs">20</text>
<text x="67.00" y="725.18" font-family="Liberation Serif" font-size="19.35" fill="#000" stroke="#fff" stroke-width="0.15" textLength="7.00" lengthAdjust="spacingAndGlyphs">0</text>
<text x="872.62" y="725.10" font-family="Liberation Serif" font-size="19.96" fill="#000" stroke="#fff" stroke-width="0.15" textLength="7.62" lengthAdjust="spacingAndGlyphs">0</text>
<text stroke="#fff" stroke-width="0.15" transform="translate(33.60,124.62) rotate(-90)" font-family="Liberation Serif" font-size="18.47" fill="#000" textLength="70.86" lengthAdjust="spacingAndGlyphs">Gain (dB)</text>
<text stroke="#fff" stroke-width="0.15" transform="translate(34.10,523.65) rotate(-90)" font-family="Liberation Serif" font-size="20.46" fill="#000" textLength="117.47" lengthAdjust="spacingAndGlyphs">Frequency (kHz)</text>
<text x="897.38" y="743.00" font-family="Liberation Serif" font-size="19.08" fill="#000" stroke="#fff" stroke-width="0.15" textLength="76.40" lengthAdjust="spacingAndGlyphs">TIME (sec)</text>
<text x="901.07" y="305.03" font-family="Liberation Serif" font-size="18.81" fill="#000" stroke="#fff" stroke-width="0.15" textLength="15.04" lengthAdjust="spacingAndGlyphs">dB</text>
<text x="940.42" y="327.72" font-family="Liberation Serif" font-size="18.79" fill="#000" stroke="#fff" stroke-width="0.15" textLength="23.59" lengthAdjust="spacingAndGlyphs">-70</text>
<text x="940.41" y="378.74" font-family="Liberation Serif" font-size="18.91" fill="#000" stroke="#fff" stroke-width="0.15" textLength="23.63" lengthAdjust="spacingAndGlyphs">-80</text>
<text x="940.41" y="429.74" font-family="Liberation Serif" font-size="18.91" fill="#000" stroke="#fff" stroke-width="0.15" textLength="23.63" lengthAdjust="spacingAndGlyphs">-90</text>
<text x="936.32" y="480.74" font-family="Liberation Serif" font-size="18.91" fill="#000" stroke="#fff" stroke-width="0.15" textLength="32.41" lengthAdjust="spacingAndGlyphs">-100</text>
<text x="936.32" y="531.74" font-family="Liberation Serif" font-size="18.91" fill="#000" stroke="#fff" stroke-width="0.15" textLength="32.41" lengthAdjust="spacingAndGlyphs">-110</text>
<text x="936.32" y="582.78" font-family="Liberation Serif" font-size="19.02" fill="#000" stroke="#fff" stroke-width="0.15" textLength="32.41" lengthAdjust="spacingAndGlyphs">-120</text>
<text stroke="#fff" stroke-width="0.15" transform="translate(992.00,574.11) rotate(-90)" font-family="Liberation Serif" font-size="21.68" fill="#000" textLength="261.38" lengthAdjust="spacingAndGlyphs">2011 237 23:43:00.000 (25 August)</text>
<text stroke="#fff" stroke-width="0.15" transform="translate(1013.75,513.81) rotate(-90)" font-family="Liberation Serif" font-size="19.92" fill="#000" textLength="101.74" lengthAdjust="spacingAndGlyphs">Cluster - C2</text>
<text x="914.95" y="33.68" font-family="Liberation Serif" font-size="17.57" fill="#000" stroke="#fff" stroke-width="0.15" textLength="71.57" lengthAdjust="spacingAndGlyphs">DATA MODE</text>
<text x="922.32" y="103.72" font-family="Liberation Serif" font-size="20.48" fill="#000" stroke="#fff" stroke-width="0.15" textLength="56.06" lengthAdjust="spacingAndGlyphs">ANTENNA</text>
<text x="907.60" y="131.69" font-family="Liberation Serif" font-size="16.04" fill="#ff0000" stroke="#fff" stroke-width="0.15" textLength="16.04" lengthAdjust="spacingAndGlyphs">Ez</text>
<text x="932.85" y="131.69" font-family="Liberation Serif" font-size="16.04" fill="#00ff00" stroke="#fff" stroke-width="0.15" textLength="15.76" lengthAdjust="spacingAndGlyphs">Bx</text>
<text x="957.37" y="131.69" font-family="Liberation Serif" font-size="16.04" fill="#0000ff" stroke="#fff" stroke-width="0.15" textLength="16.64" lengthAdjust="spacingAndGlyphs">By</text>
<text x="982.40" y="131.69" font-family="Liberation Serif" font-size="16.04" fill="#000" stroke="#fff" stroke-width="0.15" textLength="16.65" lengthAdjust="spacingAndGlyphs">Ey</text>
<text x="910.26" y="173.21" font-family="Liberation Serif" font-size="18.24" fill="#000" stroke="#fff" stroke-width="0.15" textLength="80.97" lengthAdjust="spacingAndGlyphs">RESOLUTION</text>
<text x="907.19" y="243.72" font-family="Liberation Serif" font-size="20.48" fill="#000" stroke="#fff" stroke-width="0.15" textLength="87.35" lengthAdjust="spacingAndGlyphs">TRANSLATION</text>
<text x="911.44" y="623.60" font-family="Liberation Serif" font-size="19.79" fill="#000" stroke="#fff" stroke-width="0.15" textLength="9.45" lengthAdjust="spacingAndGlyphs">R</text>
<text x="911.68" y="649.35" font-family="Liberation Serif" font-size="19.83" fill="#000" stroke="#fff" stroke-width="0.15" textLength="31.10" lengthAdjust="spacingAndGlyphs">MLAT</text>
<text x="911.64" y="673.52" font-family="Liberation Serif" font-size="19.84" fill="#000" stroke="#fff" stroke-width="0.15" textLength="23.23" lengthAdjust="spacingAndGlyphs">MLT</text>
<text x="911.43" y="698.67" font-family="Liberation Serif" font-size="20.24" fill="#000" stroke="#fff" stroke-width="0.15" textLength="8.43" lengthAdjust="spacingAndGlyphs">L</text>
<text x="974.61" y="624.00" font-family="Liberation Serif" font-size="20.31" fill="#000" stroke="#fff" stroke-width="0.15" textLength="25.65" lengthAdjust="spacingAndGlyphs">5.3</text>
<text x="958.70" y="649.40" font-family="Liberation Serif" font-size="19.84" fill="#000" stroke="#fff" stroke-width="0.15" textLength="41.60" lengthAdjust="spacingAndGlyphs">-28.9</text>
<text x="967.84" y="673.53" font-family="Liberation Serif" font-size="19.85" fill="#000" stroke="#fff" stroke-width="0.15" textLength="31.46" lengthAdjust="spacingAndGlyphs">21.7</text>
<text x="974.63" y="698.67" font-family="Liberation Serif" font-size="20.24" fill="#000" stroke="#fff" stroke-width="0.15" textLength="25.74" lengthAdjust="spacingAndGlyphs">6.9</text>
</svg>
<script>
(function(){
var cv=document.getElementById('sp'),ctx=cv.getContext('2d');
var W=755,H=511,X0=101,Y0=207;
var img=ctx.createImageData(W,H),d=img.data;
var s=1234567;
function rnd(){s^=s<<13;s^=s>>>17;s^=s<<5;return (s>>>0)/4294967296;}
function gs(){var u=rnd()||1e-9,v=rnd();return Math.sqrt(-2*Math.log(u))*Math.cos(6.283185*v);}
function le(){return (10*Math.log(-Math.log(rnd()||1e-9)+1e-6)/2.302585+2.5)/5.57;}
var ST=[[0,0,0,64],[0.06,0,0,255],[0.25,0,255,255],[0.5,0,255,0],[0.75,255,255,0],[1,255,0,0]];
function cm(v){var t=(v+120)/50;if(t<0)t=0;if(t>1)t=1;
 for(var i=1;i<ST.length;i++){if(t<=ST[i][0]){var a=ST[i-1],b=ST[i],f=(t-a[0])/(b[0]-a[0]);
 return [a[1]+(b[1]-a[1])*f,a[2]+(b[2]-a[2])*f,a[3]+(b[3]-a[3])*f];}}return [255,0,0];}
function sm(e0,e1,x){var t=(x-e0)/(e1-e0);if(t<0)t=0;if(t>1)t=1;return t*t*(3-2*t);}
function ip(arr,x){if(x<=arr[0][0])return arr[0][1];
 for(var i=1;i<arr.length;i++){if(x<=arr[i][0]){var a=arr[i-1],b=arr[i];return a[1]+(b[1]-a[1])*(x-a[0])/(b[0]-a[0]);}}
 return arr[arr.length-1][1];}
function noiseGrid(nc,nr,a,b){
 var g=[];for(var c=0;c<nc;c++){g.push(new Float32Array(nr));}
 for(var c=0;c<nc;c++)for(var r=0;r<nr;r++){
  if(c>0&&rnd()<a){g[c][r]=g[c-1][r]+gs()*1.5;continue;}
  var E=-Math.log(rnd()||1e-9);
  g[c][r]=10*Math.log(E+1e-5)/2.302585+2.5;
 }
 return g;
}
var VN=[];for(var i=0;i<64*40;i++)VN.push(rnd()*2-1);
function vnoise(x,y){var gx=x/14,gy=y/12;var ix=Math.floor(gx),iy=Math.floor(gy);var fx=gx-ix,fy=gy-iy;fx=fx*fx*(3-2*fx);fy=fy*fy*(3-2*fy);
 function G(a,b){return VN[((b%40)+40)%40*64+((a%64)+64)%64];}
 return G(ix,iy)*(1-fx)*(1-fy)+G(ix+1,iy)*fx*(1-fy)+G(ix,iy+1)*(1-fx)*fy+G(ix+1,iy+1)*fx*fy;}
function put1(xs,y,v){var col=cm(v);for(var xx=xs;xx<xs+3&&xx<W;xx++){var o=((y-Y0)*W+xx)*4;d[o]=col[0];d[o+1]=col[1];d[o+2]=col[2];d[o+3]=255;}}
function put(xs,y,v,ymax){var col=cm(v);for(var yy=y;yy<y+2&&yy<ymax;yy++)for(var xx=xs;xx<xs+3&&xx<W;xx++){var o=((yy-Y0)*W+xx)*4;d[o]=col[0];d[o+1]=col[1];d[o+2]=col[2];d[o+3]=255;}}
// ---------- LEFT section: 57 cols x 3px, rows 1px (207..716) ----------
var LB=[[101,272],[111,269],[137,269],[139,274],[153,274],[160,270],[178,262],[205,258],[218,268],[235,278],[250,262],[272,258]];
var lcol=[[101,140,-98.5],[140,152,-110],[152,194,-100],[194,203,-111],[203,241,-103.5],[241,253,-116],[253,272,-103.5]];
var lstreak=[[101,107,-109,0.7],[155,158,-107,1],[209,212,-107,1],[215,218,-114,0.5],[254,257,-115,0.4]];
var lblob=[[107,137,-116,0.35],[160,180,-111,0.7],[180,205,-118,0.12],[218,250,-120,0.08],[257,272,-118,0.15]];
var NRL=255;
var gl=noiseGrid(57,NRL,0.15,0);
for(var c=0;c<57;c++){
 var x=X0+c*3+1.5,xs=c*3;
 var cm0=-101;for(var i=0;i<lcol.length;i++){var k=lcol[i];if(x>=k[0]&&x<k[1])cm0=k[2];}
 var by=ip(LB,x);
 for(var r=0;r<NRL;r++){
  var y=Y0+2*r+1;
  var n=gl[c][r];
  var m=cm0 + 2*sm(290,360,y)*(1-sm(430,560,y)) - 3*sm(560,717,y);
  var up=1-sm(320,350,y);
  if(x>=140&&x<152) m-=3*up;
  if(x>=194&&x<203) m-=3*up;
  if(x>=225&&x<241) m-=7*up;
  if(x>=241&&x<253) m+=2*(1-up);
  var v;
  if(y<by){
   v=-130;
   for(var i=0;i<lblob.length;i++){var k=lblob[i];if(x>=k[0]&&x<k[1]&&rnd()<k[3]*(0.4+0.6*sm(207,by,y)))v=k[2]+n;}
   for(var i=0;i<lstreak.length;i++){var k=lstreak[i];if(x>=k[0]&&x<k[1]&&rnd()<k[3])v=k[2]+n;}
  } else {
   var t=sm(by,by+60,y);
   m=m-(1-t)*15;
   v=m-1+n*1.3+vnoise(x+300,y)*3;
  }
  if(Math.abs(y-385.5)<1||y==690) v=Math.max(v,-87+gs()*3);
  put(xs,y-1,v,717);
 }
}
// ---------- RIGHT section: cols 3px from 397, rows 1px from 207 to 714 ----------
var NRR=254,NCR=153;
// [center, halfwidth, head y, core y]
var BANDS=[[427,19,333,432,2,0],[484,19,356,425,3,0],[537,19,337,420,6,0],[590,19,347,432,5,0],[642,19,356,418,4,0],[697,19,362,398,4,0],[746,19,336,352,4,0],[793,14,332,372,4,-3],[847,16,385,408,2,0]];
var streak=[[415,418,-88],[466,469,-95],[519,522,-87],[568,571,-88],[620,623,-88],[673,676,-95],[729,734,-87],[776,784,-87]];
var rdark=[[604,607,-108],[615,618,-109],[669,672,-108],[721,724,-106],[772,775,-108]];
var gr=noiseGrid(NCR,NRR,0.25,0);
for(var c=0;c<NCR;c++){
 var xs=296+c*3; if(xs>=W)break;
 var x=397+c*3+1.5;
 var coff=(rnd()-0.5)*3; var bg=-108+coff;
 var dk=0;for(var i=0;i<rdark.length;i++){var k=rdark[i];if(x>=k[0]&&x<k[1])dk=k[2]+103;}
 var sk=null;for(var i=0;i<streak.length;i++){var k=streak[i];if(x>=k[0]&&x<k[1])sk=k[2];}
 var band=null,dist=99;
 for(var i=0;i<BANDS.length;i++){var b=BANDS[i];var dd=Math.abs(x-b[0]);if(dd<dist){dist=dd;band=b;}}
 for(var r=0;r<NRR;r++){
  var y=207+2*r+1;
  var m=bg;
  if(sk!==null&&y<420) m=Math.max(m,sk);
  var gap=-108+coff+13*sm(285,345,y)+15*sm(345,450,y);  // inter-band level
  m=Math.max(m,gap);
  if(band){
   var hw=band[1];
   var wx=1-sm(hw-5,hw+8,dist);
   var q=dist/hw;q=q*q;
   var head=sm(band[2]+q*8-4,band[2]+q*8+8,y);
   var core=sm(band[3]+q*14-25,band[3]+q*14+25,y);
   var lvl=-102+head*20+core*13+band[5]*core;
   var hb=(x-band[0])/14,vb=(y-band[2]-16)/16; lvl+=band[4]*Math.exp(-hb*hb-vb*vb)*(1-core);
   lvl-= 14*sm(684-q*10,704-q*10,y);
   if(lvl>gap){ m=Math.max(m,gap+(lvl-gap)*wx); }
  }
  if(y>692){ m=m+(-86-m)*sm(692,704,y); }
  m+=dk;
  var n=gr[c][r];
  var hz=(m>-92&&m<-73);
  var v=m+n+vnoise(x,y)*(hz?4.5:3)+(hz?gs()*4:0);
  if(y>=708&&y<713){ v=(x<545?-67:-85)+n+vnoise(x,y)*3; }
  if(y>=713){ v=(x<545?-80:-96)+n; }
  put(xs,y-1,v,715);
 }
}
ctx.putImageData(img,0,0);
})();

</script>
</body></html>
